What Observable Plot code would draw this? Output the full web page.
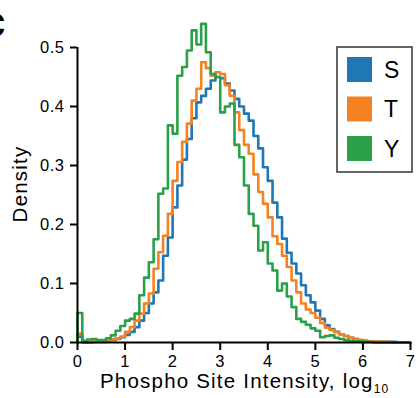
<!DOCTYPE html>
<html>
<head>
<meta charset="utf-8">
<script src="https://cdn.jsdelivr.net/npm/d3@7"></script>
<script src="https://cdn.jsdelivr.net/npm/@observablehq/plot@0.6"></script>
<style>
  html, body { margin: 0; padding: 0; background: #fff; }
  #chart svg { display: block; }
  #chart svg text { font-family: "Liberation Sans", Arial, sans-serif; }
</style>
</head>
<body>
<div id="chart"></div>
<script>
// Bin edges (log10 intensity), bin width 0.1
const binEdges = [
  0.0,0.1,0.2,0.3,0.4,0.5,0.6,0.7,0.8,0.9,
  1.0,1.1,1.2,1.3,1.4,1.5,1.6,1.7,1.8,1.9,
  2.0,2.1,2.2,2.3,2.4,2.5,2.6,2.7,2.8,2.9,
  3.0,3.1,3.2,3.3,3.4,3.5,3.6,3.7,3.8,3.9,
  4.0,4.1,4.2,4.3,4.4,4.5,4.6,4.7,4.8,4.9,
  5.0,5.1,5.2,5.3,5.4,5.5,5.6,5.7,5.8,5.9,
  6.0,6.1,6.2,6.3,6.4,6.5,6.6,6.7,6.8,6.9,
  7.0
];

// Density per bin
const S = [
  0.010,0.000,0.000,0.001,0.001,0.001,0.002,0.004,0.006,0.009,
  0.013,0.018,0.026,0.037,0.050,0.066,0.085,0.105,0.147,0.178,
  0.229,0.266,0.310,0.345,0.380,0.407,0.418,0.430,0.444,0.450,
  0.448,0.439,0.427,0.413,0.400,0.388,0.376,0.350,0.329,0.297,
  0.274,0.237,0.212,0.176,0.152,0.134,0.117,0.097,0.080,0.068,
  0.054,0.040,0.029,0.023,0.018,0.014,0.011,0.008,0.006,0.004,
  0.003,0.002,0.002,0.001,0.001,0.001,0.001,0.000,0.000,0.000
];
const T = [
  0.015,0.001,0.001,0.001,0.002,0.002,0.003,0.005,0.007,0.010,
  0.018,0.026,0.037,0.049,0.066,0.083,0.125,0.153,0.181,0.218,
  0.274,0.306,0.340,0.371,0.410,0.430,0.475,0.465,0.452,0.458,
  0.455,0.436,0.418,0.390,0.360,0.335,0.320,0.285,0.255,0.235,
  0.212,0.180,0.167,0.147,0.128,0.105,0.085,0.066,0.056,0.050,
  0.042,0.033,0.025,0.021,0.018,0.014,0.011,0.008,0.006,0.004,
  0.003,0.002,0.002,0.001,0.001,0.001,0.000,0.000,0.000,0.000
];
const Y = [
  0.050,0.003,0.005,0.006,0.004,0.004,0.007,0.012,0.020,0.028,
  0.037,0.040,0.049,0.080,0.110,0.136,0.175,0.252,0.261,0.368,
  0.354,0.452,0.467,0.495,0.529,0.505,0.540,0.492,0.455,0.450,
  0.390,0.400,0.405,0.335,0.314,0.266,0.218,0.198,0.156,0.170,
  0.134,0.122,0.088,0.100,0.078,0.060,0.040,0.035,0.030,0.024,
  0.020,0.009,0.011,0.012,0.008,0.006,0.004,0.003,0.002,0.002,
  0.001,0.001,0.000,0.000,0.000,0.000,0.000,0.000,0.000,0.000
];

const seriesNames = ["S", "T", "Y"];
const seriesColors = ["#1f77b4", "#f58220", "#2ca048"];
const xTicks = [0, 1, 2, 3, 4, 5, 6, 7];
const yTicks = [0, 0.1, 0.2, 0.3, 0.4, 0.5];
const xLabel = "Phospho Site Intensity, log";
const xLabelSub = "10";
const yLabel = "Density";
const panelLetter = "c";

// Build step-outline rows
const seriesValues = {S, T, Y};
const rows = [];
for (const name of seriesNames) {
  const vals = seriesValues[name];
  rows.push({s: name, x: binEdges[0], y: 0});
  vals.forEach((v, i) => rows.push({s: name, x: binEdges[i], y: v}));
  rows.push({s: name, x: binEdges[binEdges.length - 1], y: 0});
}

const W = 419, H = 398;
const chart = Plot.plot({
  width: W,
  height: H,
  marginLeft: 77,
  marginRight: 9,
  marginTop: 47,
  marginBottom: 56,
  style: {background: "#fff", color: "#000", fontFamily: "Liberation Sans, Arial, sans-serif"},
  x: {domain: [0, 7]},
  y: {domain: [0, 0.5]},
  color: {domain: seriesNames, range: seriesColors},
  marks: [
    Plot.lineY(rows, {x: "x", y: "y", stroke: "s", z: "s", curve: "step-after", strokeWidth: 2.6, clip: false}),
    Plot.ruleX([0], {y1: 0, y2: 0.5, stroke: "#000", strokeWidth: 2}),
    Plot.ruleY([0], {x1: 0, x2: 7, stroke: "#000", strokeWidth: 2}),
    Plot.axisX({ticks: xTicks, tickSize: 8, tickPadding: 5, strokeWidth: 2,
      tickFormat: d => String(d), label: null}),
    Plot.axisY({ticks: yTicks, tickSize: 7, tickPadding: 6, strokeWidth: 2,
      tickFormat: d3.format(".1f"), label: null})
  ]
});
document.getElementById("chart").appendChild(chart);

const svg = d3.select(chart);
svg.selectAll("g[aria-label='x-axis tick label'] text, g[aria-label='y-axis tick label'] text")
  .style("font-size", "16.5px")
  .style("letter-spacing", "0.5px");

// Axis titles
const xt = svg.append("text")
  .attr("x", 100).attr("y", 388)
  .attr("text-anchor", "start")
  .style("font-size", "20.5px")
  .style("letter-spacing", "1.2px")
  .attr("fill", "#000")
  .text(xLabel);
xt.append("tspan").attr("dy", 5).style("font-size", "12px").text(xLabelSub);

svg.append("text")
  .attr("transform", "translate(27,184) rotate(-90)")
  .attr("text-anchor", "middle")
  .style("font-size", "20.5px")
  .style("letter-spacing", "1.2px")
  .attr("fill", "#000")
  .text(yLabel);

// Panel letter (partially cropped at left edge, as in the original figure)
svg.append("text")
  .attr("x", -19).attr("y", 37)
  .attr("text-anchor", "start")
  .style("font-size", "44px").style("font-weight", "bold")
  .attr("fill", "#000")
  .text(panelLetter);

// Legend box
const lg = svg.append("g");
lg.append("rect")
  .attr("x", 337).attr("y", 47).attr("width", 75).attr("height", 125)
  .attr("fill", "#fff").attr("stroke", "#333").attr("stroke-width", 1.5);
seriesNames.forEach((name, i) => {
  const cy = 69.5 + i * 39.5;
  lg.append("rect")
    .attr("x", 347).attr("y", cy - 12.5).attr("width", 25).attr("height", 25)
    .attr("fill", seriesColors[i]);
  lg.append("text")
    .attr("x", 384).attr("y", cy + 8.3)
    .attr("text-anchor", "start")
    .style("font-size", "23px").attr("fill", "#000")
    .text(name);
});
</script>
</body>
</html>
